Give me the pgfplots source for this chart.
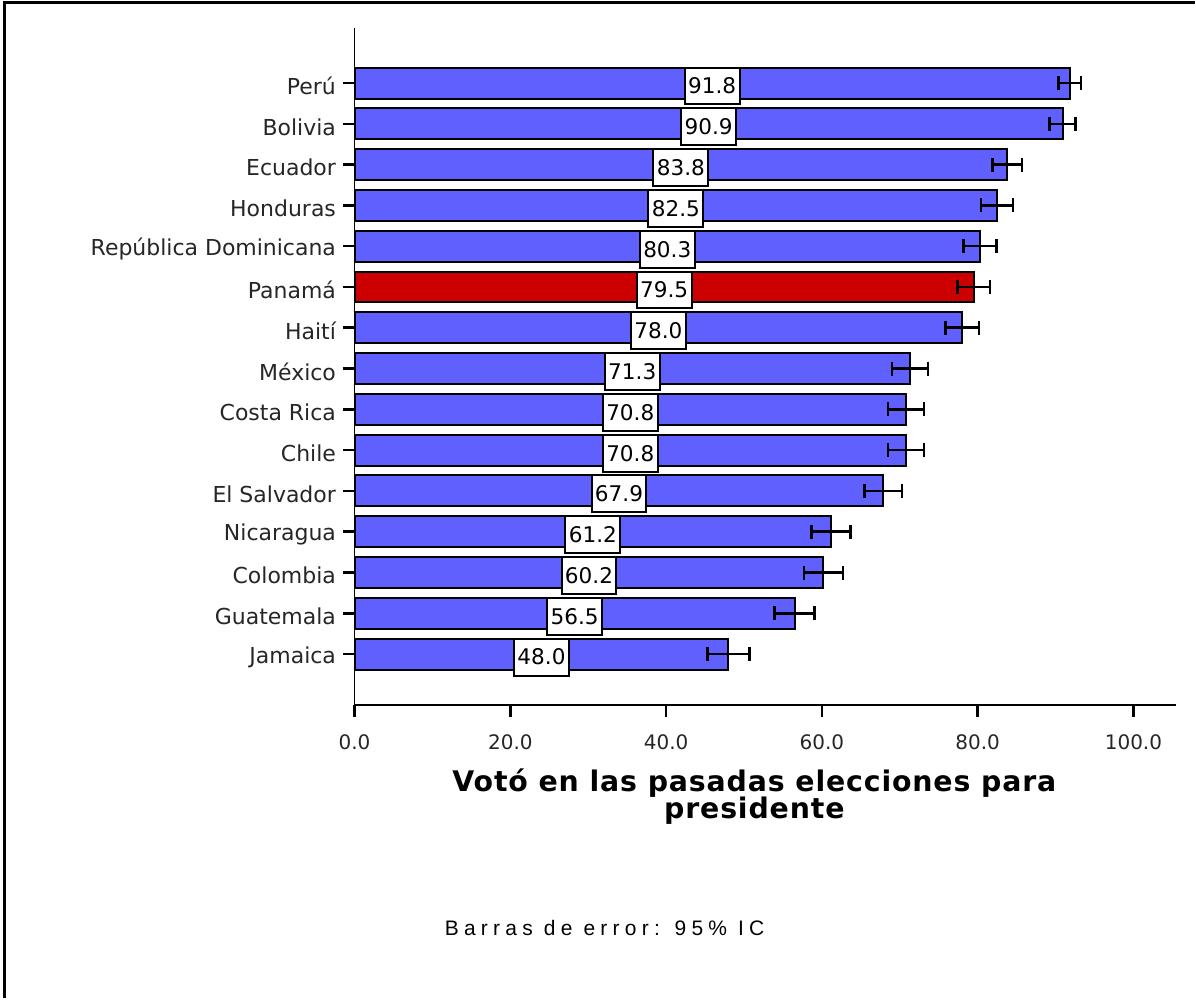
\documentclass[border=0pt]{standalone}
\usepackage{fontspec}
\setmainfont{DejaVu Sans}
\newfontfamily\notefont[LetterSpace=25]{Liberation Sans}
\newfontfamily\titlefont[LetterSpace=3]{DejaVu Sans}
\usepackage{pgfplots}
\pgfplotsset{compat=1.18}
\usepackage{pgfplotstable}

\definecolor{barblue}{RGB}{96,96,255}
\definecolor{barred}{RGB}{204,0,0}

% idx 0 = Jamaica (bottom) ... 14 = Peru (top); Panama is idx 9
\pgfplotstableread{
idx val  err
0   48.0 2.70
1   56.5 2.55
2   60.2 2.50
3   61.2 2.50
4   67.9 2.40
5   70.8 2.30
6   70.8 2.30
7   71.3 2.30
8   78.0 2.15
9   79.5 2.10
10  80.3 2.15
11  82.5 2.05
12  83.8 1.90
13  90.9 1.65
14  91.8 1.45
}\votos

\begin{document}
\begin{tikzpicture}
\path (0,0) rectangle (598pt,499.5pt);
\draw[line width=1.5pt] (2.5pt,0) -- (2.5pt,498pt) -- (598pt,498pt);

\begin{axis}[
  at={(177.5pt,146.5pt)}, anchor=south west,
  scale only axis, width=411pt, height=339pt,
  xmin=0, xmax=105.4, ymin=-1.25, ymax=15.35,
  axis x line=bottom, axis y line=left,
  axis line style={-, line width=0.8pt, black},
  tick align=outside, major tick length=5.8pt,
  tick style={line width=1.3pt, black},
  xtick={0,20,40,60,80,100},
  ytick={0,...,14},
  yticklabels={Jamaica, Guatemala, Colombia, Nicaragua, El Salvador, Chile,
    Costa Rica, México, Haití, Panamá, República Dominicana, Honduras,
    Ecuador, Bolivia, Perú},
  /pgf/number format/assume math mode=true,
  xticklabel style={/pgf/number format/.cd, fixed, fixed zerofill, precision=1,
    /tikz/.cd, yshift=-5.5pt, font=\fontsize{10}{12}\selectfont, text=black!85},
  yticklabel style={font=\fontsize{11}{13}\selectfont, text=black!85, yshift=-1.5pt},
  xlabel={Votó en las pasadas elecciones para\\presidente},
  xlabel style={align=center, font=\titlefont\bfseries\fontsize{14.2}{14}\selectfont,
    at={(axis description cs:0.487,0)}, anchor=base, yshift=-57pt, inner sep=0pt},
  clip=false,
]
\addplot[xbar, bar shift=0pt, bar width=15.5pt, fill=barblue, draw=black, line width=1pt,
  y filter/.expression={y==9 ? nan : y},
  error bars/.cd, x dir=both, x explicit,
  error bar style={line width=1.3pt, black},
  error mark options={line width=1.3pt, mark size=3.5pt, black, rotate=90}]
  table[x=val, y=idx, x error=err] {\votos};
\addplot[xbar, bar shift=0pt, bar width=15.5pt, fill=barred, draw=black, line width=1pt,
  y filter/.expression={y==9 ? y : nan},
  error bars/.cd, x dir=both, x explicit,
  error bar style={line width=1.3pt, black},
  error mark options={line width=1.3pt, mark size=3.5pt, black, rotate=90}]
  table[x=val, y=idx, x error=err] {\votos};
\addplot[draw=none, mark=none, point meta=explicit,
  nodes near coords={\pgfmathprintnumber[fixed, fixed zerofill, precision=1]{\pgfplotspointmeta}},
  every node near coord/.append style={anchor=center, fill=white, draw=black,
    line width=1pt, inner sep=0pt, minimum width=27.5pt, minimum height=18.5pt,
    yshift=-1.5pt, font=\fontsize{10.8}{12}\selectfont, text=black}]
  table[x expr=\thisrow{val}/2, y=idx, meta=val] {\votos};
\end{axis}

\node[anchor=base west, inner sep=0pt] at (222.5pt,31pt)
  {\notefont\fontsize{10.5}{12}\selectfont Barras de error: 95\% IC};
\end{tikzpicture}
\end{document}
